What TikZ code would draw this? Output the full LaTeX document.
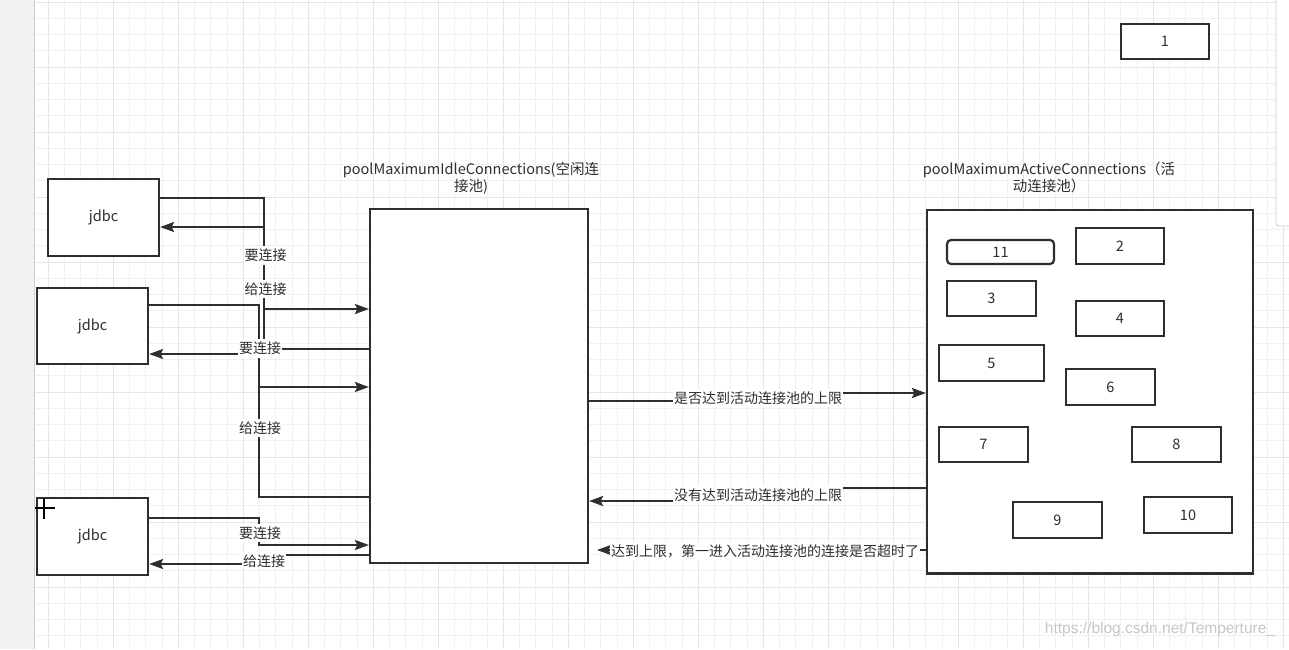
\documentclass[tikz,border=0pt]{standalone}
\usepackage{fontspec}
\setmainfont{Noto Sans CJK SC}
\newfontfamily\wmfont{Liberation Sans}
\usetikzlibrary{arrows.meta}
\definecolor{ink}{HTML}{2E2E2E}
\definecolor{gminorc}{HTML}{F0F0F0}
\definecolor{gmajorc}{HTML}{E6E6E6}
\newcommand\lblfont{\fontsize{14}{16}\selectfont}
\newcommand\boxfont{\fontsize{14.5}{17}\selectfont}
\tikzset{
  gminor/.style={draw=gminorc, line width=0.8pt},
  gmajor/.style={draw=gmajorc, line width=0.9pt},
  box/.style={draw=ink, line width=2.2pt, fill=white, inner sep=0pt, text=ink, font=\boxfont},
  conn/.style={draw=ink, line width=2.2pt, -{Stealth[length=14pt,width=10pt,inset=2.5pt]}},
  lbl/.style={fill=white, inner xsep=1pt, inner ysep=3pt, text=ink, font=\lblfont},
  ttl/.style={inner sep=0pt, text=ink, font=\boxfont, align=center},
}
\begin{document}
\begin{tikzpicture}[x=1pt,y=-1pt]
\useasboundingbox (0,0) rectangle (1289,649);
% background grid
\fill[white] (0,0) rectangle (1289,649);
\begin{scope}
\clip (0,0) rectangle (1289,649);
\foreach \i in {-1,...,80} \draw[gminor] ({15.8+16.25*\i},0) -- ({15.8+16.25*\i},649);
\foreach \j in {0,...,40} \draw[gminor] (0,{2.05+16.25*\j}) -- (1289,{2.05+16.25*\j});
\foreach \i in {2,6,...,78} \draw[gmajor] ({15.8+16.25*\i},0) -- ({15.8+16.25*\i},649);
\foreach \j in {0,4,...,40} \draw[gmajor] (0,{2.05+16.25*\j}) -- (1289,{2.05+16.25*\j});
% left strip
\fill[black!5] (0,0) rectangle (34,649);
\draw[black!18, line width=0.8pt] (34,0) -- (34,649);
% right panel
\draw[black!20, fill=white, line width=0.8pt, rounded corners=3pt] (1276,-6) rectangle (1300,226);
\end{scope}

% boxes
\node[box, minimum width=88pt, minimum height=35pt] (b1) at (1165,41.5) {1};
\node[box, minimum width=111pt, minimum height=77pt] (j1) at (103.5,217.5) {jdbc};
\node[box, minimum width=111pt, minimum height=76pt] (j2) at (92.5,326) {jdbc};
\node[box, minimum width=111pt, minimum height=77pt] (j3) at (92.5,536.5) {jdbc};
\node[box, minimum width=218pt, minimum height=354pt] (idle) at (479,386) {};
\node[box, minimum width=326pt, minimum height=363.5pt] (active) at (1090,391.75) {};

\node[ttl] (tidle) at (471,178) {poolMaximumIdleConnections(空闲连\\接池)};
\node[ttl] (tactive) at (1049,177) {poolMaximumActiveConnections（活\\动连接池）};

% active pool members
\node[box, rounded corners=4pt, minimum width=107pt, minimum height=24pt] (n11) at (1000.5,252) {11};
\node[box, minimum width=88pt, minimum height=36pt] (n2) at (1120,246) {2};
\node[box, minimum width=89pt, minimum height=35pt] (n3) at (991.5,298.5) {3};
\node[box, minimum width=88pt, minimum height=35pt] (n4) at (1120,318.5) {4};
\node[box, minimum width=105pt, minimum height=36pt] (n5) at (991.5,363) {5};
\node[box, minimum width=89pt, minimum height=36pt] (n6) at (1110.5,387) {6};
\node[box, minimum width=89pt, minimum height=35pt] (n7) at (983.5,444.5) {7};
\node[box, minimum width=89pt, minimum height=35pt] (n8) at (1176.5,444.5) {8};
\node[box, minimum width=89pt, minimum height=36pt] (n9) at (1057.5,520) {9};
\node[box, minimum width=88pt, minimum height=36pt] (n10) at (1188,515) {10};

% connectors jdbc <-> idle
\draw[conn] ([yshift=19.5pt]j1.east) -| (264,309) -- (idle.west |- 0,309);
\draw[conn] (idle.west |- 0,349) -| (264,227) -- (j1.east |- 0,227);
\draw[conn] ([yshift=21pt]j2.east) -| (259,387) -- (idle.west |- 0,387);
\draw[conn] (idle.west |- 0,497) -| (259,354) -- (j2.east |- 0,354);
\draw[conn] ([yshift=18.5pt]j3.east) -| (259,545) -- (idle.west |- 0,545);
\draw[conn] (idle.west |- 0,555) -| (264,564) -- (j3.east |- 0,564);

% connectors idle <-> active
\coordinate (tipL) at (597,550);
\draw[conn] (idle.east |- 0,401) -| (758,393) -- (active.west |- 0,393);
\draw[conn] (active.west |- 0,488) -| (758,501) -- (idle.east |- 0,501);
\draw[conn] (active.west |- 0,550) -- (tipL);

% labels
\node[lbl] (l1) at (265.5,255.5) {要连接};
\node[lbl] (l2) at (265.5,289) {给连接};
\node[lbl] (l3) at (260,348.5) {要连接};
\node[lbl] (l4) at (260,428) {给连接};
\node[lbl] (l5) at (260,533) {要连接};
\node[lbl, inner ysep=1pt] (l6) at (264,561) {给连接};
\node[lbl] (l7) at (758,398) {是否达到活动连接池的上限};
\node[lbl] (l8) at (758,495) {没有达到活动连接池的上限};
\node[lbl] (l9) at (765,551.5) {达到上限，第一进入活动连接池的连接是否超时了};

% cursor
\draw[black, line width=2.2pt] (35,508) -- (55,508) (44,498) -- (44,519);

% watermark
\node[inner sep=0pt, text=black!22, font=\wmfont\fontsize{15.5}{17}\selectfont] (wm) at (1160,629) {https://blog.csdn.net/Temperture\_};
\end{tikzpicture}
\end{document}
